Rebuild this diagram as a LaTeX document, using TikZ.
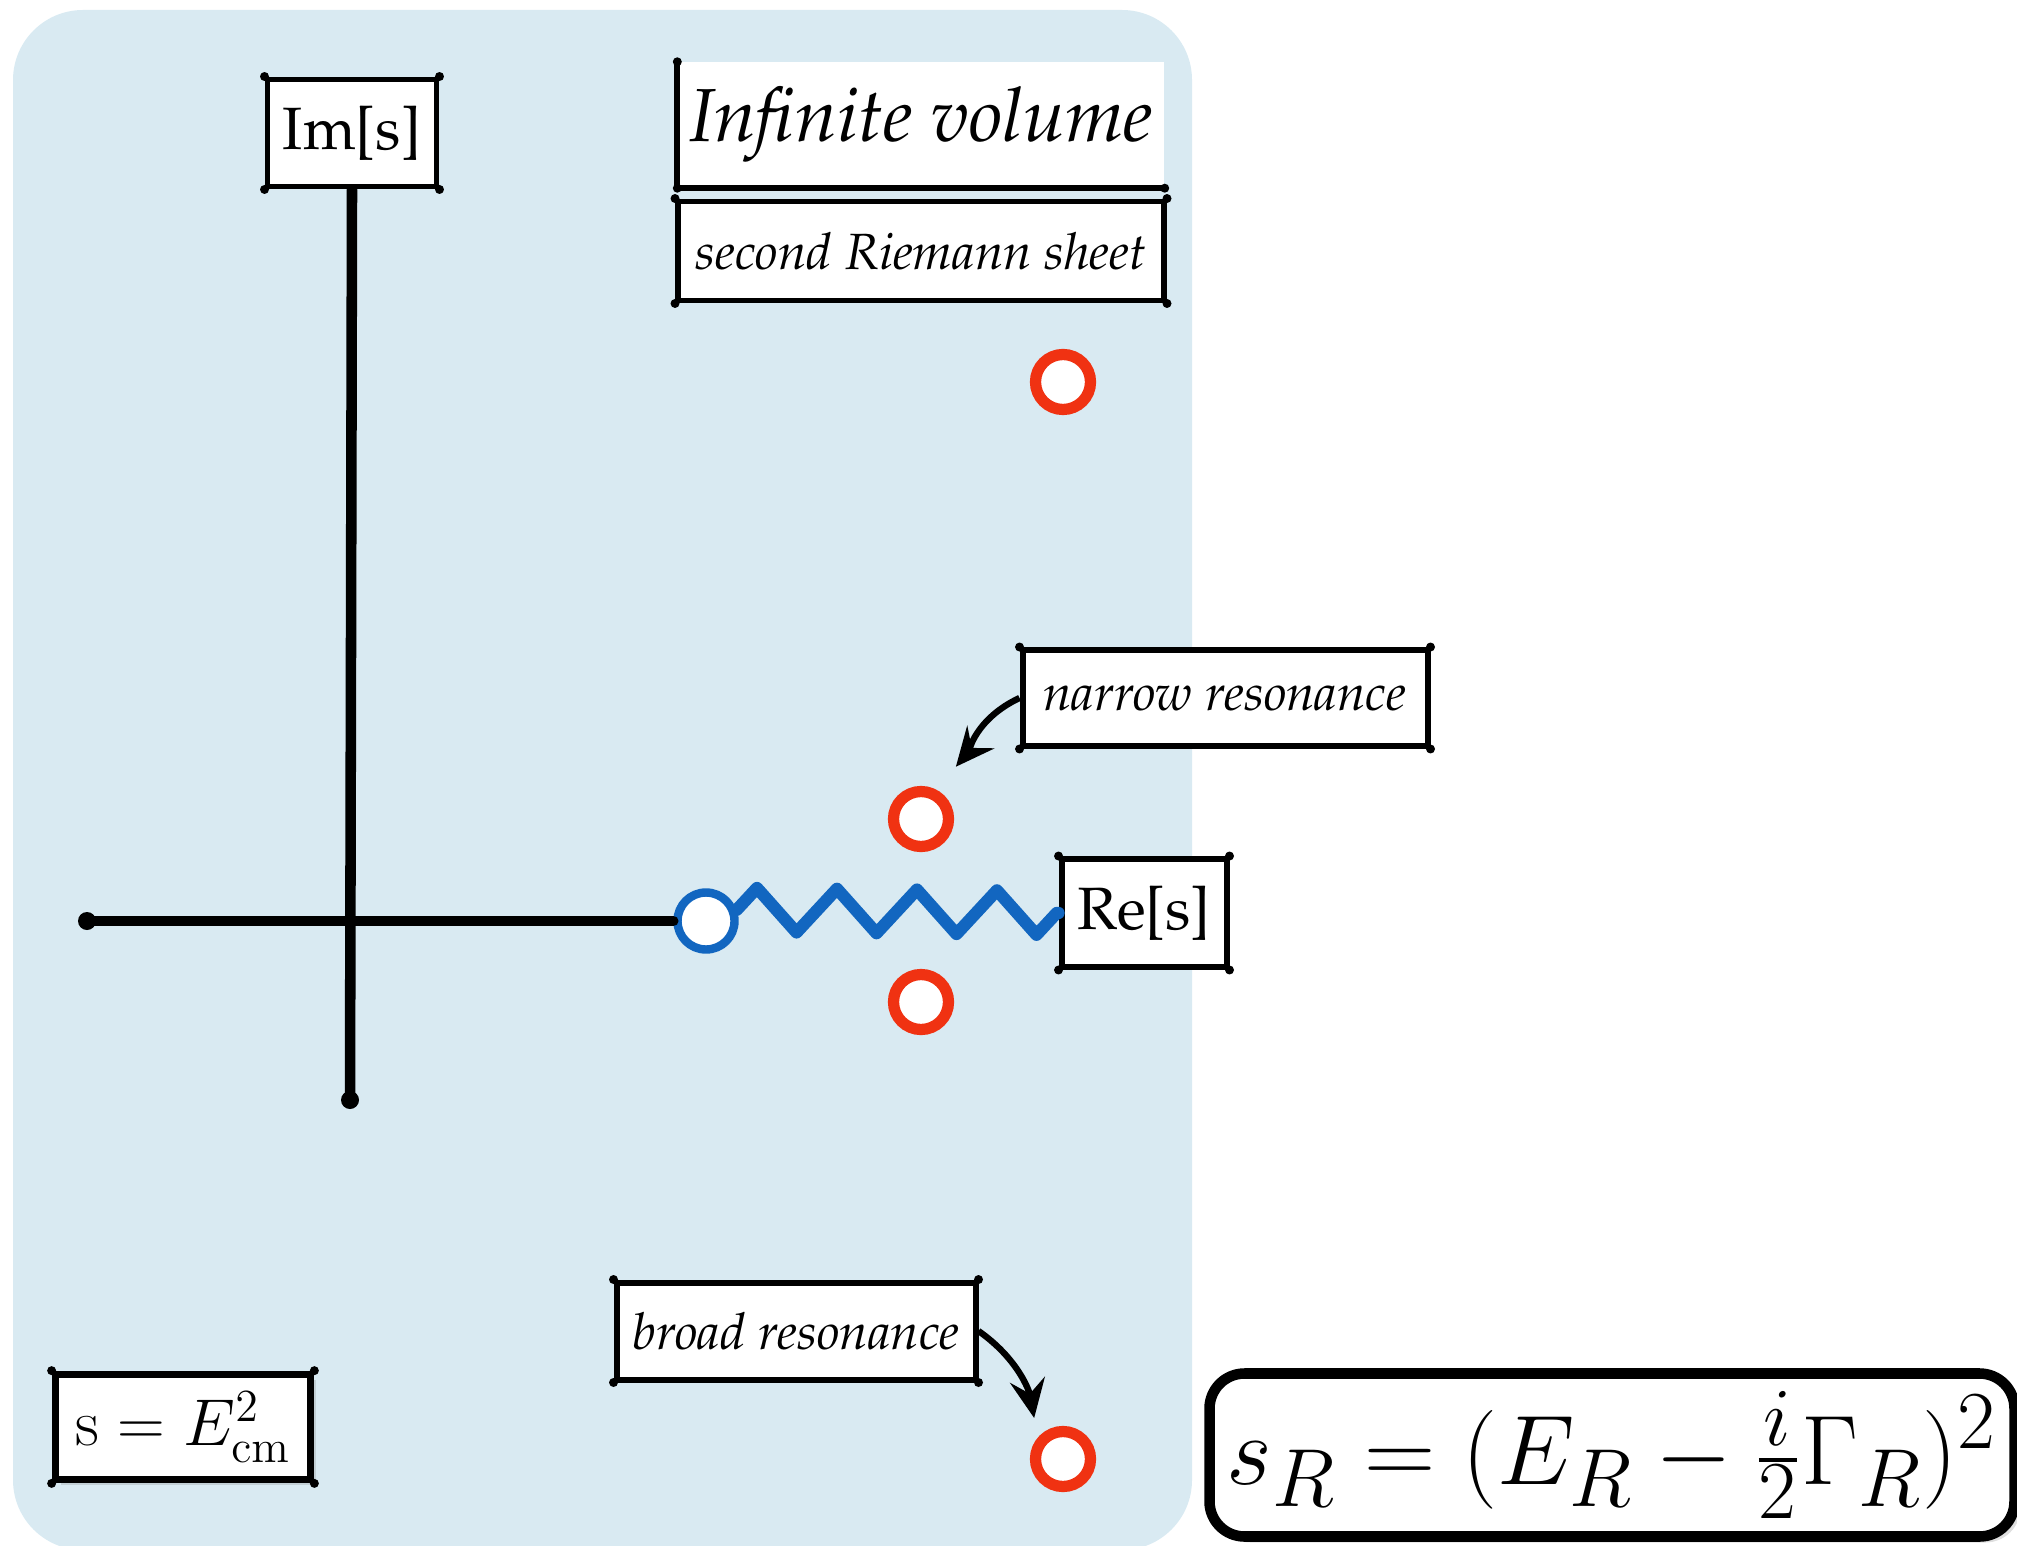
\documentclass[tikz,border=0pt]{standalone}
\usepackage{amsmath}
\usepackage{graphicx}
\usepackage{xcolor}
\usepackage{tikz}
\usetikzlibrary{arrows.meta, positioning, decorations.pathmorphing, shadows}
\definecolor{sheetblue}{RGB}{217,234,242}
\definecolor{polered}{RGB}{240,50,18}
\definecolor{cutblue}{RGB}{18,102,192}
\newcommand{\pal}{\fontencoding{T1}\fontfamily{ppl}\selectfont}

\begin{document}
\begin{tikzpicture}[
  x=0.1mm, y=0.1mm,
  lbox/.style={draw, fill=white, line width=1.7pt, inner sep=0pt},
  pole/.style={circle, draw=polered, fill=white, line width=3.2pt, minimum size=5.5mm, inner sep=0pt},
  axis/.style={line width=3pt, line cap=round},
  pointer/.style={line width=1.8pt, -{Stealth[length=11pt, width=10pt, inset=4pt]}}
]
\useasboundingbox (0,0) rectangle (2017,1545);
% second sheet
\fill[sheetblue, rounded corners=7mm] (13,-5) rectangle (1192,1535);
% axes labels
\node[lbox, minimum width=16.9mm, minimum height=10.7mm, font=\pal\fontsize{17}{20}\selectfont] (ims) at (352,1412) {Im[s]};
\node[lbox, minimum width=16.5mm, minimum height=10.8mm, font=\pal\fontsize{17}{20}\selectfont] (res) at (1144,632) {Re[s]};
\node[circle, draw=cutblue, fill=white, line width=2.4pt, minimum size=5.7mm, inner sep=0pt] (thr) at (706,624) {};
\coordinate (imlow) at (350,445);
\coordinate (releft) at (87,624);
% titles
\node[fill=white, minimum width=48.6mm, minimum height=12.5mm, inner sep=0pt, font=\pal\itshape\fontsize{21.4}{24}\selectfont] (inf) at (921,1420) {Infinite volume};
\node[lbox, minimum width=48.6mm, minimum height=9.9mm, font=\pal\itshape\fontsize{14.5}{17}\selectfont] (rsh) at (921,1294) {second Riemann sheet};
% poles
\foreach \name/\pos in {ptop/{1063,1163}, pup/{921,726}, pdn/{921,543}, pbot/{1063,86}}
  \node[pole] (\name) at (\pos) {};
\node[lbox, minimum width=40.5mm, minimum height=9.6mm, font=\pal\itshape\fontsize{14.5}{17}\selectfont] (nar) at (1225,847) {narrow resonance};
\node[lbox, minimum width=35.9mm, minimum height=9.7mm, font=\pal\itshape\fontsize{14.5}{17}\selectfont] (brd) at (796,214) {broad resonance};
% formulas
\node[lbox, line width=2.2pt, drop shadow={opacity=0.25, shadow xshift=0.5mm, shadow yshift=-0.5mm}, minimum width=25.5mm, minimum height=10.5mm, font=\fontsize{17.28}{21}\selectfont] (mand) at (183,118) {\scalebox{1.09}{$\mathrm{s}=E^2_{\mathrm{cm}}$}};
\node[draw, fill=white, line width=3pt, rounded corners=3.5mm, drop shadow={opacity=0.25, shadow xshift=0.6mm, shadow yshift=-0.6mm}, minimum width=80.5mm, minimum height=16.3mm, inner sep=0pt, font=\fontsize{24.88}{30}\selectfont] (spole) at (1612,90) {\scalebox{1.13}{$s_R=(E_R-\frac{i}{2}\Gamma_R)^2$}};
% axes and cut
\draw[axis] (ims.south) -- (imlow);
\draw[axis] (releft) -- (thr.west);
\fill (imlow) circle (9);
\fill (releft) circle (9);
\draw[cutblue, line width=3.5pt, line join=round, line cap=round, decorate, decoration={zigzag, segment length=8mm, amplitude=2.2mm}] (thr.20) -- (res.west);
\draw[line width=1.7pt] (inf.north west) -- (inf.south west) -- (inf.south east);
\foreach \c in {north west,south west,south east}
  \fill (inf.\c) circle (4.5);
\foreach \n in {ims,res,rsh,nar,brd,mand}
  \foreach \c in {north west,north east,south west,south east}
    \fill (\n.\c) circle (4.5);
% pointers
\draw[pointer, shorten >=3mm] (nar.west) to[out=205, in=50] (pup.62);
\draw[pointer, shorten >=2mm] (brd.east) to[out=-35, in=100] (pbot.140);
\end{tikzpicture}
\end{document}
